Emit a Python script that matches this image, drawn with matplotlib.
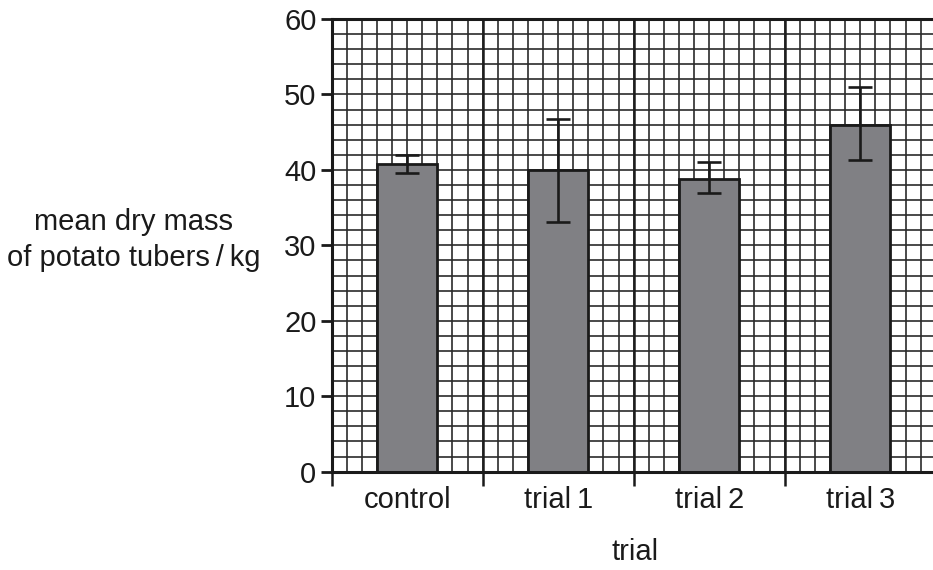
import matplotlib.pyplot as plt
import numpy as np

plt.rcParams['font.family'] = ['Liberation Sans', 'DejaVu Sans']

# ========== Data ==========
categories = ['control', 'trial\u20091', 'trial\u20092', 'trial\u20093']
means = [40.8, 40.0, 38.8, 46.0]
err_low = [39.6, 33.1, 37.0, 41.3]
err_high = [42.0, 46.8, 41.0, 51.0]

yticks = [0, 10, 20, 30, 40, 50, 60]

# ========== Plot ==========
fig = plt.figure(figsize=(9.33, 5.7), dpi=100)
ax = fig.add_axes([0.3555, 0.1725, 0.6474, 0.7942])

x = np.arange(len(categories)) + 0.5
lower = np.array(means) - np.array(err_low)
upper = np.array(err_high) - np.array(means)

# graph-paper grid
for gx in np.arange(0, 4.01, 0.1):
    ax.axvline(gx, color='#2b2b2b', lw=1.2, zorder=0)
for gy in np.arange(0, 60.1, 2):
    ax.axhline(gy, color='#2b2b2b', lw=1.2, zorder=0)
for gx in [1, 2, 3]:
    ax.axvline(gx, color='#1e1e1e', lw=1.8, zorder=0)

ax.bar(x, means, width=0.4, color='#808084', edgecolor='#1a1a1a', linewidth=2, zorder=2)
ax.errorbar(x, means, yerr=[lower, upper], fmt='none', ecolor='#1a1a1a',
            elinewidth=1.9, capsize=8.5, capthick=1.9, zorder=3)

ax.set_xlim(0, 4)
ax.set_ylim(0, 60)

ax.set_yticks(yticks)
ax.set_yticklabels([str(v) for v in yticks], fontsize=21, color='#1a1a1a')
ax.set_xticks([0, 1, 2, 3, 4])
ax.set_xticklabels([])
ax.set_xticks(x, minor=True)
ax.set_xticklabels(categories, minor=True, fontsize=21, color='#1a1a1a')
ax.tick_params(axis='y', direction='out', length=8, width=2, pad=3, color='#1a1a1a')
ax.tick_params(axis='x', which='major', direction='out', length=10, width=1.8, color='#1a1a1a')
ax.tick_params(axis='x', which='minor', length=0, pad=10)

for side in ['left', 'bottom', 'top']:
    ax.spines[side].set_linewidth(2.2)
    ax.spines[side].set_color('#1a1a1a')
ax.spines['right'].set_visible(False)

fig.text(635 / 933, 1 - 552 / 570, 'trial', fontsize=21, ha='center', va='center', color='#1a1a1a')
fig.text(134 / 933, 1 - 240 / 570, 'mean dry mass\nof potato tubers\u2009/\u2009kg', fontsize=21,
         ha='center', va='center', multialignment='center', linespacing=1.35, color='#1a1a1a')

plt.savefig('out.png', dpi=100)
